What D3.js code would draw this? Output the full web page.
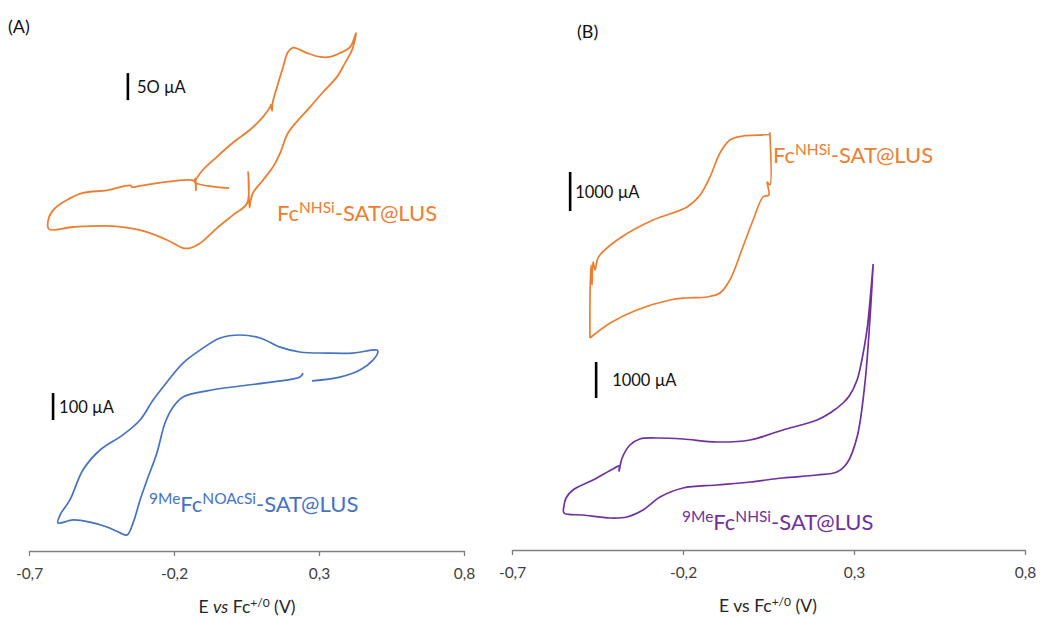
<!DOCTYPE html>
<html><head><meta charset="utf-8">
<script src="https://cdn.jsdelivr.net/npm/d3@7"></script>
<style>
body{margin:0;background:#fff;}
svg{font-family:"Lato","Open Sans",sans-serif;}
</style></head>
<body><svg id="c" width="1040" height="617"></svg>
<script>
// ---- data (E in V vs Fc+/0, I in µA) ----
const xTicks = [-0.7, -0.2, 0.3, 0.8];

// Panel A, Fc(NHSi)-SAT@LUS (orange)
const orangeA = [
 [-0.010,22],[-0.128,33],[-0.126,40],[-0.124,18],[-0.130,35],[-0.203,35],[-0.317,26],[-0.345,24],[-0.350,27],[-0.431,18],[-0.514,13],[-0.569,0],
 [-0.610,-15],[-0.631,-32],[-0.631,-54],[-0.548,-50],[-0.431,-48],[-0.317,-56],[-0.224,-74],
 [-0.169,-89],[-0.145,-89],[-0.110,-80],[-0.052,-52],[0.003,-28],[0.052,-6],[0.056,52],
 [0.060,-14],[0.064,-2],[0.072,13],[0.107,37],[0.141,61],[0.166,87],[0.193,124],
 [0.228,148],[0.269,172],[0.314,200],[0.362,228],[0.390,254],[0.414,278],[0.428,309],
 [0.407,283],[0.372,272],[0.338,265],[0.303,265],[0.259,272],[0.210,282],[0.193,274],
 [0.176,246],[0.155,209],[0.140,180],[0.138,165],[0.134,176],[0.131,172],[0.107,154],[0.062,130],
 [0.003,106],[-0.052,80],[-0.100,56],[-0.121,41],[-0.128,33]
];
// Panel A, 9MeFc(NOAcSi)-SAT@LUS (blue)
const blueA = [
 [0.276,256],[0.372,270],[0.441,296],[0.486,333],[0.503,363],[0.500,370],[0.417,359],
 [0.328,359],[0.234,363],[0.166,381],[0.097,415],[0.028,426],[-0.041,415],[-0.110,370],
 [-0.169,322],[-0.224,252],[-0.272,185],[-0.317,111],[-0.376,56],[-0.455,0],[-0.514,-74],
 [-0.559,-185],[-0.593,-241],[-0.600,-270],[-0.548,-259],[-0.490,-267],[-0.431,-285],
 [-0.386,-307],[-0.362,-315],[-0.341,-270],[-0.317,-185],[-0.293,-111],[-0.259,-11],
 [-0.231,100],[-0.203,159],[-0.169,196],[-0.086,219],[0.028,237],[0.141,252],[0.234,270],[0.245,285]
];
// Panel B, Fc(NHSi)-SAT@LUS (orange)
const orangeB = [
 [-0.472,-2256],[-0.472,-1282],[-0.469,-385],[-0.466,-897],[-0.463,-308],[-0.457,-513],
 [-0.451,-256],[-0.443,-128],[-0.384,308],[-0.288,769],[-0.188,1103],[-0.150,1410],
 [-0.121,1872],[-0.092,2487],[-0.063,2821],[-0.025,2923],[0.054,2974],[0.054,3000],
 [0.054,1667],[0.046,1744],[0.051,1410],[0.034,1359],[0.005,769],[-0.025,77],[-0.063,-769],
 [-0.092,-1103],[-0.130,-1205],[-0.194,-1231],[-0.238,-1282],[-0.335,-1538],[-0.413,-1872],[-0.472,-2256]
];
// Panel B, 9MeFc(NHSi)-SAT@LUS (purple)
const purpleB = [
 [0.356,6000],[0.347,5000],[0.338,4167],[0.323,3333],[0.309,2778],[0.288,2361],[0.268,2139],
 [0.230,1861],[0.192,1667],[0.092,1389],[-0.004,1111],[-0.101,1056],[-0.200,1139],[-0.276,1167],
 [-0.326,1139],[-0.355,972],[-0.378,611],[-0.387,250],[-0.387,389],[-0.405,306],[-0.463,0],
 [-0.522,-278],[-0.542,-500],[-0.548,-722],[-0.548,-917],[-0.492,-972],[-0.413,-1056],
 [-0.364,-1028],[-0.317,-833],[-0.267,-472],[-0.200,-222],[-0.101,-139],[-0.004,-56],
 [0.092,56],[0.192,139],[0.250,222],[0.280,472],[0.309,1194],[0.332,2694],[0.347,4528],[0.356,6000]
];
// scale bars: [E position, I start, I end, label]
const barOrangeA = [-0.359, 185, 235, "5O µA"];
const barBlueA   = [-0.617, 111, 211, "100 µA"];
const barOrangeB = [-0.530, 1000, 2000, "1000 µA"];
const barPurpleB = [-0.454, 2278, 3278, "1000 µA"];

// ---- drawing ----
const svg = d3.select("#c");
const fmt = d => d.toFixed(1).replace(".", ",");

const xA = d3.scaleLinear().domain([-0.7, 0.8]).range([29, 464]);
const xB = d3.scaleLinear().domain([-0.7, 0.8]).range([512, 1025]);
const yOA = d3.scaleLinear().domain([0, 50]).range([200, 173]);
const yBA = d3.scaleLinear().domain([0, 100]).range([450, 423]);
const yOB = d3.scaleLinear().domain([0, 1000]).range([250, 211]);
const yPB = d3.scaleLinear().domain([0, 1000]).range([480, 444]);

function axis(x, yPos, italic, cx) {
  const g = svg.append("g").attr("transform", `translate(0,${yPos})`)
    .call(d3.axisBottom(x).tickValues(xTicks).tickSize(5).tickSizeOuter(0).tickFormat(fmt));
  g.select(".domain").attr("stroke", "#7f7f7f").attr("stroke-width", 1.3);
  g.selectAll(".tick line").attr("stroke", "#7f7f7f").attr("stroke-width", 1.3);
  g.selectAll(".tick text").attr("fill", "#404040").attr("font-size", 15.5)
    .attr("font-family", "Lato, 'Open Sans', sans-serif").attr("dy", "1.3em");
  const t = svg.append("text").attr("x", cx).attr("y", yPos + 62).attr("text-anchor", "middle")
    .attr("font-size", 17.5).attr("fill", "#262626");
  t.append("tspan").text("E ");
  t.append("tspan").attr("font-style", italic ? "italic" : "normal").text("vs");
  t.append("tspan").text(" Fc");
  t.append("tspan").attr("font-size", 12).attr("dy", -6).text("+/0");
  t.append("tspan").attr("dy", 6).text(" (V)");
}
axis(xA, 551, true, 247);
axis(xB, 550, false, 768);

const line = (x, y) => d3.line().x(d => x(d[0])).y(d => y(d[1])).curve(d3.curveCatmullRom.alpha(0.5));
function curve(data, x, y, color, w) {
  svg.append("path").datum(data).attr("d", line(x, y)).attr("fill", "none")
    .attr("stroke", color).attr("stroke-width", w).attr("stroke-linejoin", "round");
}
curve(orangeA, xA, yOA, "#ED7D31", 1.8);
curve(blueA, xA, yBA, "#4472C4", 1.7);
curve(orangeB, xB, yOB, "#ED7D31", 1.7);
curve(purpleB, xB, yPB, "#7030A0", 1.7);

function bar(b, x, y, dx) {
  svg.append("line").attr("x1", x(b[0])).attr("x2", x(b[0]))
    .attr("y1", y(b[1])).attr("y2", y(b[2])).attr("stroke", "#000").attr("stroke-width", 2.6);
  svg.append("text").attr("x", x(b[0]) + dx).attr("y", (y(b[1]) + y(b[2])) / 2 + 6.5)
    .attr("font-size", 16.5).attr("fill", "#111").text(b[3]);
}
bar(barOrangeA, xA, yOA, 9);
bar(barBlueA, xA, yBA, 6);
bar(barOrangeB, xB, yOB, 5);
bar(barPurpleB, xB, yPB, 16);

function label(x, y, pre, main, sup, rest, color) {
  const t = svg.append("text").attr("x", x).attr("y", y).attr("fill", color).attr("font-size", 22);
  if (pre) { t.append("tspan").attr("font-size", 15.5).attr("dy", -8).text(pre);
             t.append("tspan").attr("dy", 8).text(main); }
  else t.append("tspan").text(main);
  t.append("tspan").attr("font-size", 15.5).attr("dy", -8).text(sup);
  t.append("tspan").attr("dy", 8).text(rest);
}
label(277, 221, null, "Fc", "NHSi", "-SAT@LUS", "#ED7D31");
label(149, 512, "9Me", "Fc", "NOAcSi", "-SAT@LUS", "#4472C4");
label(773, 163, null, "Fc", "NHSi", "-SAT@LUS", "#ED7D31");
label(682, 530, "9Me", "Fc", "NHSi", "-SAT@LUS", "#7030A0");

svg.append("text").attr("x", 8).attr("y", 33).attr("font-size", 18).attr("fill", "#111").text("(A)");
svg.append("text").attr("x", 577).attr("y", 38).attr("font-size", 18).attr("fill", "#111").text("(B)");
</script></body></html>
